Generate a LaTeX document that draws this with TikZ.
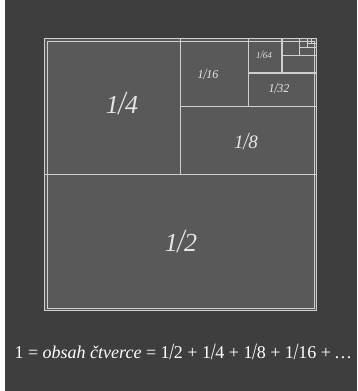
\documentclass[tikz,border=0pt]{standalone}
\usepackage{fontspec}
\setmainfont{Liberation Serif}
\definecolor{bgdark}{HTML}{3E3E3E}
\definecolor{sqfill}{HTML}{595959}
\definecolor{linegray}{HTML}{CFCFCF}
\definecolor{txtlight}{HTML}{E6E6E6}
\tikzset{
  divline/.style={draw=linegray, line width=1.3pt},
  framebox/.style={draw=linegray, line width=0.8pt},
  fraclabel/.style={text=txtlight, inner sep=0pt},
}
\newcommand{\myfrac}[2]{#1\kern-0.02em\raisebox{-0.05em}{\scalebox{1}[1.3]{/}}\kern-0.02em#2}
\begin{document}
\begin{tikzpicture}[x=1pt,y=-1pt]
\useasboundingbox (0,0) rectangle (357,391);
\fill[bgdark] (5,0) rectangle (357,391);
\fill[sqfill] (45,39) rectangle (316,310);
% double frame
\draw[framebox] (44.5,38.5) rectangle (316.5,310.5);
\draw[framebox] (47,41) rectangle (314,308);
% subdivisions
\draw[divline] (45,174.5) -- (316,174.5);
\draw[divline] (180.5,39) -- (180.5,174.5);
\draw[divline] (180.5,106.75) -- (316,106.75);
\draw[divline] (248.25,39) -- (248.25,106.75);
\draw[divline] (248.25,72.9) -- (316,72.9);
\draw[divline] (282.1,39) -- (282.1,72.9);
\draw[divline,line width=1pt] (282.1,55.9) -- (316,55.9);
\draw[divline,line width=0.9pt] (299,39) -- (299,55.9);
\draw[divline,line width=0.8pt] (299,47.5) -- (316,47.5);
\draw[divline,line width=0.7pt] (307.5,39) -- (307.5,47.5);
\draw[divline,line width=0.6pt] (307.5,43.2) -- (316,43.2);
\draw[divline,line width=0.5pt] (311.7,39) -- (311.7,43.2);
% labels
\node[fraclabel, font=\fontsize{26}{26}\selectfont\itshape] (q4) at (122,104) {\myfrac{1}{4}};
\node[fraclabel, font=\fontsize{26}{26}\selectfont\itshape] (q2) at (181,242) {\myfrac{1}{2}};
\node[fraclabel, font=\fontsize{19}{19}\selectfont\itshape] (q8) at (246,141) {\myfrac{1}{8}};
\node[fraclabel, font=\fontsize{12}{12}\selectfont\itshape] (q16) at (208,74) {\myfrac{1}{16}};
\node[fraclabel, font=\fontsize{12}{12}\selectfont\itshape] (q32) at (279,88) {\myfrac{1}{32}};
\node[fraclabel, font=\fontsize{9}{9}\selectfont\itshape] (q64) at (264,55) {\myfrac{1}{64}};
% equation
\node[text=white, inner sep=0pt, font=\fontsize{18}{18}\selectfont] (eq) at (183,352)
  {1 = \textit{obsah čtverce} = \myfrac{1}{2} + \myfrac{1}{4} + \myfrac{1}{8} + \myfrac{1}{16} + \textit{\dots}};
\end{tikzpicture}
\end{document}
